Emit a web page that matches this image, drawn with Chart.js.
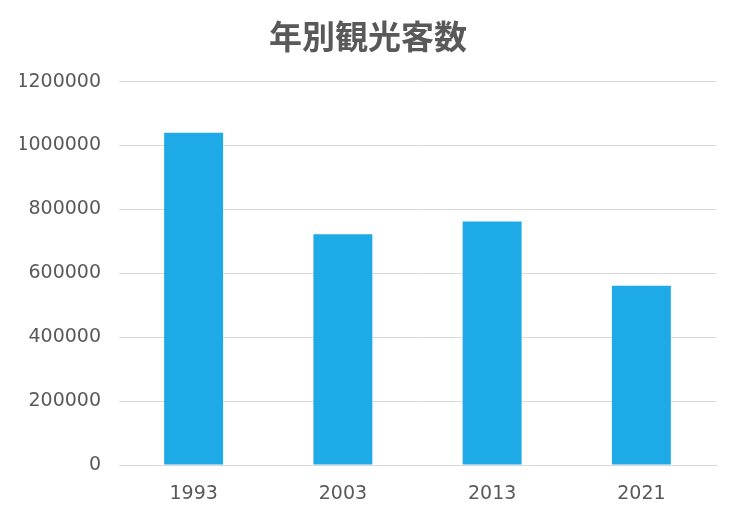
<!DOCTYPE html>
<html lang="ja">
<head>
<meta charset="UTF-8">
<title>年別観光客数</title>
<style>
    body { margin: 0; background: #fff; }
    #wrap { width: 736px; height: 514px; }
</style>
</head>
<body>
<div id="wrap"><canvas id="chart" width="736" height="514"></canvas></div>
<script src="https://cdn.jsdelivr.net/npm/chart.js"></script>
<script>
const years = ['1993', '2003', '2013', '2021'];
const visitors = [1040000, 722000, 762000, 561000];
const yTicks = [0, 200000, 400000, 600000, 800000, 1000000, 1200000];

const gray = '#595959';
const tickFont = { family: '"DejaVu Sans", Verdana, sans-serif', size: 19 };
const ctx = document.getElementById('chart').getContext('2d');
new Chart(ctx, {
    type: 'bar',
    data: {
        labels: years,
        datasets: [{
            label: '観光客数',
            data: visitors,
            backgroundColor: '#1eaae6',
            borderWidth: 0,
            barPercentage: 1,
            categoryPercentage: 0.395
        }]
    },
    options: {
        responsive: false,
        animation: false,
        // left/right padding equal so the title stays centred on the canvas
        layout: { padding: { left: 20, right: 20, top: 17, bottom: 0 } },
        plugins: {
            legend: { display: false },
            tooltip: { enabled: false },
            title: {
                display: true,
                text: '年別観光客数',
                color: gray,
                font: { family: '"Noto Sans CJK JP", sans-serif', size: 33, weight: 'bold' },
                padding: { top: 0, bottom: 25 }
            }
        },
        scales: {
            x: {
                afterFit: s => { s.height = 49; },
                grid: { display: false },
                border: { color: '#d9d9d9', width: 1 },
                ticks: { color: gray, font: tickFont, padding: 10 }
            },
            y: {
                min: 0,
                max: 1200000,
                afterFit: s => { s.width = 99; },
                afterBuildTicks: s => { s.ticks = yTicks.map(v => ({ value: v })); },
                grid: { color: '#d9d9d9', drawTicks: false },
                border: { display: false },
                ticks: {
                    color: gray,
                    font: tickFont,
                    padding: 18,
                    callback: v => String(v)
                }
            }
        }
    }
});
</script>
</body>
</html>
